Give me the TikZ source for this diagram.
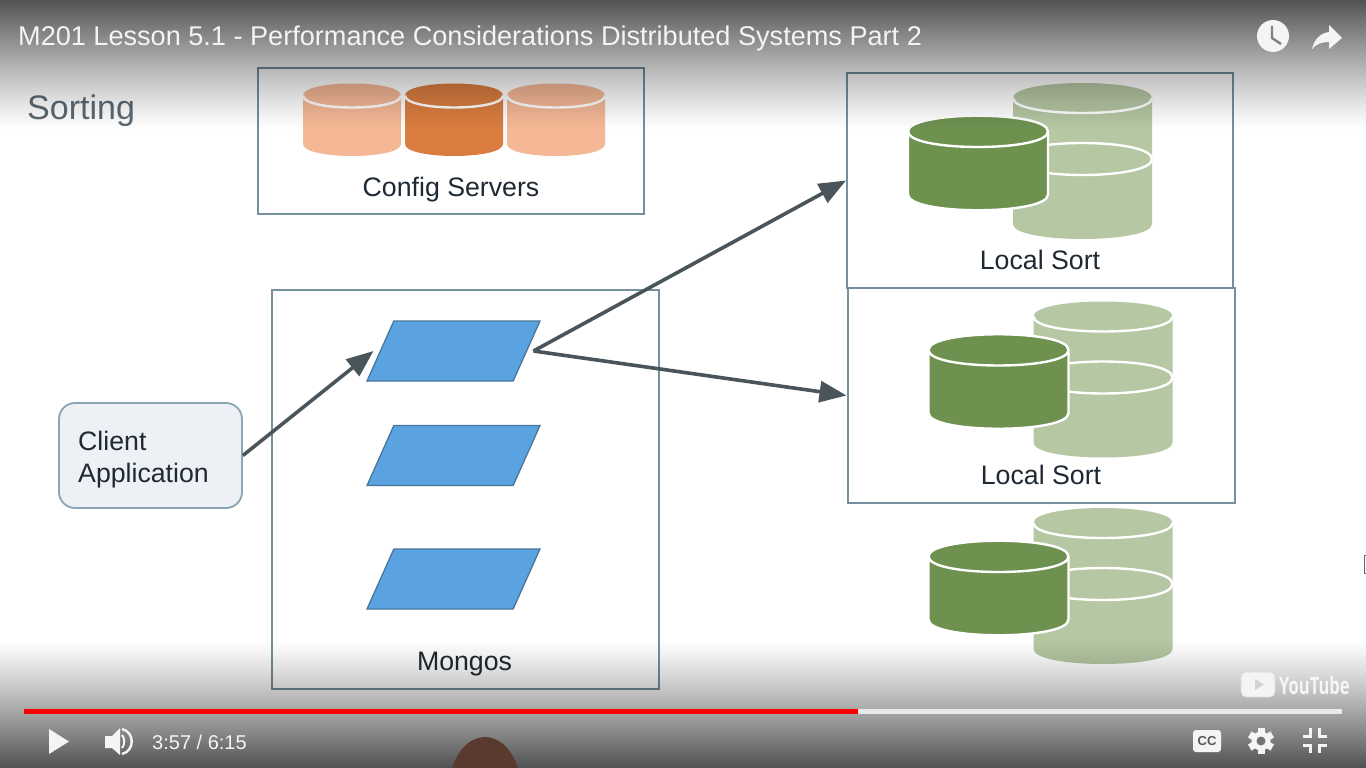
\documentclass[tikz,border=0pt]{standalone}
\usepackage{fontspec}
\setmainfont{Liberation Sans}
\newfontfamily\ytfont{Open Sans}
\usetikzlibrary{shapes.geometric,arrows.meta,calc}
\definecolor{framec}{HTML}{75909E}
\definecolor{arrowc}{HTML}{4A555B}
\definecolor{inkc}{HTML}{1F2933}
\definecolor{sortc}{HTML}{5B6A75}
\definecolor{orlight}{HTML}{F5B896}
\definecolor{ordark}{HTML}{DB7D40}
\definecolor{grlight}{HTML}{B5C7A3}
\definecolor{grdark}{HTML}{6E9150}
\definecolor{bluep}{HTML}{5BA3E0}
\definecolor{bluee}{HTML}{47759C}
\definecolor{clientf}{HTML}{EDF0F5}
\definecolor{clientd}{HTML}{8CA5B5}
\definecolor{titlec}{HTML}{F4F4F4}
\definecolor{headc}{HTML}{5A3A2E}
\tikzset{
  frame/.style={draw=framec,line width=2pt,fill=none,inner sep=0pt,rectangle},
  para/.style={trapezium,trapezium left angle=77.8,trapezium right angle=102.2,trapezium stretches=true,
    draw=bluee,line width=1.3pt,fill=bluep,minimum width=173pt,minimum height=60pt,inner sep=1pt},
  flow/.style={draw=arrowc,line width=3.6pt,-{Triangle[length=27pt,width=21pt,fill=arrowc]}},
  slide/.style={font=\fontsize{26.7}{26.7}\selectfont,text=inkc,inner sep=0pt},
  ui/.style={text=titlec,inner sep=0pt},
  uifill/.style={fill=titlec,draw=none},
}
\newcommand{\cyl}[6]{% left right top-centre bottom-centre ry colour
  \path[fill=#6] (#1,#3) .. controls (#1,#3-1.333*#5) and (#2,#3-1.333*#5) .. (#2,#3)
    -- (#2,#4) .. controls (#2,#4+1.333*#5) and (#1,#4+1.333*#5) .. (#1,#4) -- cycle;}
\newcommand{\lowarc}[4]{% left right centre ry
  \draw[white,line width=2.4pt] (#1,#3) .. controls (#1,#3+1.333*#4) and (#2,#3+1.333*#4) .. (#2,#3);}
\newcommand{\uparc}[4]{%
  \draw[white,line width=2.4pt] (#1,#3) .. controls (#1,#3-1.333*#4) and (#2,#3-1.333*#4) .. (#2,#3);}
\newcommand{\dbstack}[2]{%
  \begin{scope}[shift={(#1,#2)}]
    \cyl{1013}{1152}{98}{224}{15}{grlight}
    \lowarc{1013}{1152}{98}{15}
    \lowarc{1013}{1152}{159}{16}
    \uparc{1013}{1152}{159}{16}
    \path[fill=grdark,draw=white,line width=2.4pt] (908,131.5) .. controls (908,110.5) and (1048,110.5) .. (1048,131.5)
      -- (1048,194.5) .. controls (1048,215.5) and (908,215.5) .. (908,194.5) -- cycle;
    \lowarc{908}{1048}{131.5}{15.5}
  \end{scope}}
\begin{document}
\begin{tikzpicture}[x=1pt,y=-1pt]
\useasboundingbox (0,0) rectangle (1366,768);
\fill[white] (0,0) rectangle (1366,768);
% config servers
\node[frame,minimum width=386pt,minimum height=146pt] (config) at (451,141) {};
\cyl{303}{401}{95.5}{144}{12}{orlight}\lowarc{303}{401}{95.5}{12}
\cyl{405}{503}{95.5}{144}{12}{ordark}\lowarc{405}{503}{95.5}{12}
\cyl{507}{605}{95.5}{144}{12}{orlight}\lowarc{507}{605}{95.5}{12}
\node[slide] (configlabel) at (451,189.5) {Config Servers};
\node[font=\fontsize{34}{34}\selectfont,text=sortc,inner sep=0pt,anchor=west] (sorting) at (27,111) {Sorting};
% shards
\node[frame,minimum width=386pt,minimum height=215pt] (shardone) at (1040,180.5) {};
\node[frame,minimum width=387pt,minimum height=215pt] (shardtwo) at (1041,395.5) {};
\dbstack{0}{0}
\dbstack{20.5}{218.5}
\dbstack{20.5}{425}
\node[slide] (sortone) at (1040,260) {Local Sort};
\node[slide] (sorttwo) at (1041,475) {Local Sort};
% mongos
\node[frame,minimum width=387pt,minimum height=399pt] (mongosbox) at (465,489) {};
\node[para] (mone) at (453.5,351) {\phantom{x}};
\node[para] (mtwo) at (453.5,455.5) {\phantom{x}};
\node[para] (mthree) at (453.5,579) {\phantom{x}};
\node[slide] (mongoslabel) at (464.5,664.5) {Mongos};
% client
\node[draw=clientd,fill=clientf,line width=1.8pt,rounded corners=16pt,minimum width=183pt,minimum height=105pt,inner sep=0pt] (client) at (150.5,455.5) {};
\node[slide,anchor=west] (clienta) at (78,440.5) {Client};
\node[slide,anchor=west] (clientb) at (78,476) {Application};
% connectors
\coordinate (monein) at ($(mone.center)+(-80,0)$);
\coordinate (moneout) at ($(mone.center)+(80,0)$);
\draw[flow] (client.east) -- (monein);
\draw[flow] (moneout) -- (shardone.west);
\draw[flow] (moneout) -- (shardtwo.west);
% player shades, one pixel row at a time
\foreach \r in {0,...,129}{
  \pgfmathsetmacro\al{.68*(1-(\r+.5)/130)^1.15}
  \fill[black,fill opacity=\al] (0,\r) rectangle (1366,\r+1);}
\foreach \r in {640,...,767}{
  \pgfmathsetmacro\al{.68*((\r+.5-640)/128)^1.15}
  \fill[black,fill opacity=\al] (0,\r) rectangle (1366,\r+1);}
% presenter head
\fill[headc] (452,768) .. controls (458,750) and (470,737) .. (485,737) .. controls (500,737) and (512,750) .. (518,768) -- cycle;
% title bar
\node[ui,anchor=west,font=\fontsize{27.1}{27.1}\selectfont] (title) at (18,38) {M201 Lesson 5.1 - Performance Considerations Distributed Systems Part 2};
\fill[titlec] (1273,36) circle (16);
\draw[gray,line width=2.4pt] (1272,26) -- (1272,38) -- (1281,44);
\path[uifill] (1342,38) -- (1329,25) -- (1329,32) .. controls (1320,33) and (1314,40) .. (1312,49) .. controls (1316,44) and (1322,42) .. (1329,42) -- (1329,49) -- cycle;
% YouTube
\fill[titlec,draw=white!70!gray,line width=.6pt,rounded corners=5pt] (1241,672) rectangle (1275,697);
\path[fill=white!65!gray] (1255,679) -- (1264,684.5) -- (1255,690) -- cycle;
\node[ui,anchor=west,font=\ytfont\bfseries\fontsize{24}{24}\selectfont,xscale=.69,text=white!93!gray] (youtube) at (1279,685) {YouTube};
% progress
\fill[white!83!gray] (858,709) rectangle (1342,714);
\fill[red] (24,709) rectangle (858,714);
% controls
\path[uifill] (49,729) -- (69,741.5) -- (49,754) -- cycle;
\path[uifill] (105,736) -- (112,736) -- (120,728) -- (120,755) -- (112,748) -- (105,748) -- cycle;
\draw[titlec,line width=2pt] (122,735) .. controls (125,738) and (125,745) .. (122,748);
\draw[titlec,line width=2.4pt] (122,729) .. controls (135,732) and (135,751) .. (122,754);
\node[ui,anchor=west,font=\fontsize{20}{20}\selectfont] (clock) at (152,742) {3:57 / 6:15};
\fill[titlec,rounded corners=3pt] (1193,730) rectangle (1221,752);
\node[inner sep=0pt,font=\bfseries\fontsize{13}{13}\selectfont,text=black!65] (cc) at (1207,741) {CC};
% gear
\fill[titlec] (1261,741) circle (9.5);
\foreach \a in {0,60,...,300}{\fill[titlec,rotate around={\a:(1261,741)}] (1257.5,728) rectangle (1264.5,735);}
\fill[black!55] (1261,741) circle (4.5);
% exit fullscreen
\draw[titlec,line width=3pt] (1303,736.5) -- (1310.5,736.5) -- (1310.5,728);
\draw[titlec,line width=3pt] (1327,736.5) -- (1319.5,736.5) -- (1319.5,728);
\draw[titlec,line width=3pt] (1303,745.5) -- (1310.5,745.5) -- (1310.5,753);
\draw[titlec,line width=3pt] (1327,745.5) -- (1319.5,745.5) -- (1319.5,753);
% pointer sliver at the right edge
\draw[black!60,line width=1.2pt] (1366,555.5) -- (1364.5,555.5) -- (1364.5,573.5) -- (1366,573.5);
\end{tikzpicture}
\end{document}
